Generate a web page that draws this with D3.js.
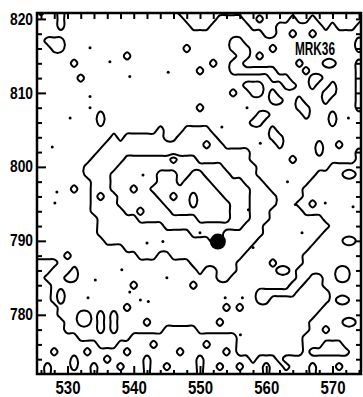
<!DOCTYPE html>
<html>
<head>
<meta charset="utf-8">
<script src="https://cdn.jsdelivr.net/npm/d3@7"></script>
<style>
    body { margin: 0; background: #fff; }
    svg { display: block; background: #fff; }
    .tick text {
        font-family: "Liberation Sans", Arial, sans-serif;
        font-weight: bold;
        fill: #000;
    }
    .xlab .tick text { font-size: 18px; }
    .ylab .tick text { font-size: 16px; }
    .tick line { stroke: #000; stroke-width: 2; }
    .domain { display: none; }
    .contour { fill: none; stroke: #000; stroke-width: 2; stroke-linejoin: round; }
    .frame { fill: none; stroke: #000; stroke-width: 2.5; }
    .label { font-family: "Liberation Sans", Arial, sans-serif; font-weight: bold; font-size: 18px; }
</style>
</head>
<body>
<svg id="chart" width="363" height="397"></svg>
<script>
// axis ticks
const xTicks = [530, 540, 550, 560, 570];
const yTicks = [780, 790, 800, 810, 820];
const xMinor = d3.range(526, 575, 2).filter(v => v % 10 !== 0);
const yMinor = d3.range(774, 821, 2).filter(v => v % 10 !== 0);

// contour levels and the level map
// one row per unit of y (821 at the top), one column per unit of x (525 at the left)
const gridX0 = 525;
const gridY0 = 821;
const levels = [0.5, 1.5, 2.5, 3.5];
const levelRows = [
    ".1..1..... .......... ..11111111 1111111111 1111111111",
    "....1..... .......... ...11111.. ..11.1111. 11.1111111",
    "....1..... .......... ....111... ...1111... ....1.111.",
    ".......... .......... .......... .....11..1 ..1.......",
    "..111..... .......... .......... 11........ .........1",
    "...11..... .......... ...1...... 111...1... .........1",
    ".......... ....1..... .......... .11.1..... ..........",
    "......1... .......... .......1.. 11........ 1...11...1",
    ".......... .......... .....1.... 1111111... .1.......1",
    ".......1.. .......... .......... ......111. ..11.....1",
    ".......... .......... .......... ..111...11 ..1..1...1",
    ".......... .......... .......... 1..11.1... ....11...1",
    ".......... .......... .......... ......11.. 1...1....1",
    ".......... .......... .....1.... .......... 11.......1",
    ".......... 1......... .......... ....11.... .1...1....",
    ".......... 1......... .......... ...11..... .....1....",
    ".......... .........1 ...1111... ......1... ..........",
    ".......... ..1.111111 ..111111.. ......11.. ..........",
    ".......... .111111111 111111211. .......1.. ...1..1...",
    ".......... 1111111111 1111111111 111....... ...1.....1",
    ".........1 1111222222 2322211111 111......1 .........1",
    "........11 1112222222 2222222221 1111...... .....11111",
    "........11 1122222223 3322332222 1111...... ...1111..1",
    ".........1 1122222223 3323333222 22111..... ..11111111",
    "......1..1 1122232233 3333333322 222111.... .111111111",
    ".........1 2112222223 3433433332 2221111... .111111111",
    ".........1 1112222222 3333433333 2221111... 11.1111111",
    ".........1 1111223222 2333333333 222111.... .111111111",
    ".......... 1111112222 2222233333 222111.... ....111111",
    ".......... 1111111111 2222222222 22111..... .....11111",
    ".......... 1111111111 1111222221 11111..... ....111111",
    ".......... .111111111 1111111221 1111...... ...1111..1",
    ".......... ....111111 1111111111 111....... ..11111111",
    ".....1.... ......111. .111111111 11........ .111111111",
    "1111...... .......... ....111111 1.....1... .111111111",
    "111...1... .......... .....1..11 1......11. 111111..11",
    "11...11... .......... ........11 .......... 11..11..11",
    "111....... .....1.... ....1..... .........1 1...111111",
    "111.1..... .......... .......... ....111111 .....11111",
    "111.1..... .......... .......... ....11.... .....1..11",
    "1111...... ....1..... .........1 .1........ ....111111",
    "1111...11. 1.1....... .......... .......... ...1111111",
    "11111..11. 1.1....1.. ........1. .......... ..11111..1",
    "11111..... 1.1....... 11111..... .......... ..11.11111",
    "1111111... .....11111 1111111111 1......... .111111111",
    "1111111111 ...11111.1 111111.111 1......... .111...111",
    "111.1111.1 1111.11111 11.111111. 1......... .1......11",
    "111111.111 1.11111.11 11111.1111 111.111.11 1111111111",
    "11.111.11. 111.111.11 .1111.11.1 1.111.11.1 11.111.111",
    "11.111111. 1111111.11 11111.1111 11111.1111 11.1111111"
];

// source position and scattered specks
const source = [552.7, 789.9];
const sourceName = 'MRK36';
const specks = [
    [533.4, 816.1], [536.4, 814.2], [539.4, 812.2], [545.2, 812.8], [533.4, 809.5],
    [533.4, 808.0], [527.7, 802.7], [528.4, 796.6], [541.4, 798.9], [559.1, 803.2],
    [557.1, 808.0], [553.3, 805.4], [563.2, 798.0], [572.4, 806.6], [528.1, 795.1],
    [534.2, 784.7], [538.2, 786.1], [542.0, 789.7], [544.4, 789.9], [550.0, 791.1],
    [557.3, 794.2], [564.4, 794.9], [565.4, 791.1], [558.0, 789.1], [545.0, 785.0],
    [533.1, 782.3], [539.4, 783.1], [541.0, 782.0], [542.2, 781.8], [553.8, 782.3],
    [556.4, 782.3], [568.9, 795.1], [573.1, 794.6], [556.1, 777.3], [530.4, 806.6]
];

const frame = {left: 37, right: 361, top: 13, bottom: 374};

const x = d3.scaleLinear().domain([525.4, 574.3]).range([frame.left, frame.right]);
const y = d3.scaleLinear().domain([772.0, 820.8]).range([frame.bottom, frame.top]);

const svg = d3.select('#chart');

svg.append('clipPath')
    .attr('id', 'plot-clip')
  .append('rect')
    .attr('x', frame.left)
    .attr('y', frame.top)
    .attr('width', frame.right - frame.left)
    .attr('height', frame.bottom - frame.top);

const plot = svg.append('g').attr('clip-path', 'url(#plot-clip)');

// contours
const rows = levelRows.map(r => r.replace(/ /g, ''));
rows.forEach((r, i) => { if (r.length !== 50) throw new Error('row ' + i + ' has ' + r.length); });
const cols = rows[0].length;
const values = rows.flatMap(r => Array.from(r, ch => ch === '.' ? 0 : +ch));

const contours = d3.contours()
    .size([cols, rows.length])
    .thresholds(levels)(values);

const ringLine = d3.line().curve(d3.curveCatmullRomClosed.alpha(0.5));

contours.forEach(c => {
    c.coordinates.forEach(poly => {
        poly.forEach(ring => {
            const pts = ring.slice(0, -1)
                .map(([gx, gy]) => [x(gridX0 + gx - 0.5), y(gridY0 - gy + 0.5)]);
            plot.append('path')
                .attr('class', 'contour')
                .attr('d', ringLine(pts));
        });
    });
});

plot.selectAll('.speck')
    .data(specks)
  .enter().append('circle')
    .attr('class', 'speck')
    .attr('cx', d => x(d[0]))
    .attr('cy', d => y(d[1]))
    .attr('r', 1.5)
    .attr('fill', '#000');

plot.append('circle')
    .attr('cx', x(source[0]))
    .attr('cy', y(source[1]))
    .attr('r', 8)
    .attr('fill', '#000');

// axes, ticks pointing inward on all four sides
svg.append('g')
    .attr('transform', 'translate(0,' + frame.bottom + ')')
    .call(d3.axisBottom(x).tickValues(xMinor).tickSize(-4).tickFormat(''));
svg.append('g')
    .attr('class', 'xlab')
    .attr('transform', 'translate(0,' + frame.bottom + ')')
    .call(d3.axisBottom(x).tickValues(xTicks).tickSize(-8).tickPadding(7))
  .selectAll('text')
    .attr('textLength', 25)
    .attr('lengthAdjust', 'spacingAndGlyphs');

svg.append('g')
    .attr('transform', 'translate(0,' + frame.top + ')')
    .call(d3.axisTop(x).tickValues(xMinor.concat(xTicks)).tickSize(-6).tickFormat(''));

svg.append('g')
    .attr('transform', 'translate(' + frame.left + ',0)')
    .call(d3.axisLeft(y).tickValues(yMinor).tickSize(-5).tickFormat(''));
svg.append('g')
    .attr('class', 'ylab')
    .attr('transform', 'translate(' + frame.left + ',0)')
    .call(d3.axisLeft(y).tickValues(yTicks).tickSize(-9).tickPadding(4))
  .selectAll('text')
    .attr('textLength', 23)
    .attr('lengthAdjust', 'spacingAndGlyphs');

svg.append('g')
    .attr('transform', 'translate(' + frame.right + ',0)')
    .call(d3.axisRight(y).tickValues(yMinor.concat(yTicks)).tickSize(-5).tickFormat(''));

svg.append('rect')
    .attr('class', 'frame')
    .attr('x', frame.left)
    .attr('y', frame.top)
    .attr('width', frame.right - frame.left)
    .attr('height', frame.bottom - frame.top);

svg.append('text')
    .attr('class', 'label')
    .attr('x', 295)
    .attr('y', 55)
    .attr('textLength', 40)
    .attr('lengthAdjust', 'spacingAndGlyphs')
    .text(sourceName);
</script>
</body>
</html>
